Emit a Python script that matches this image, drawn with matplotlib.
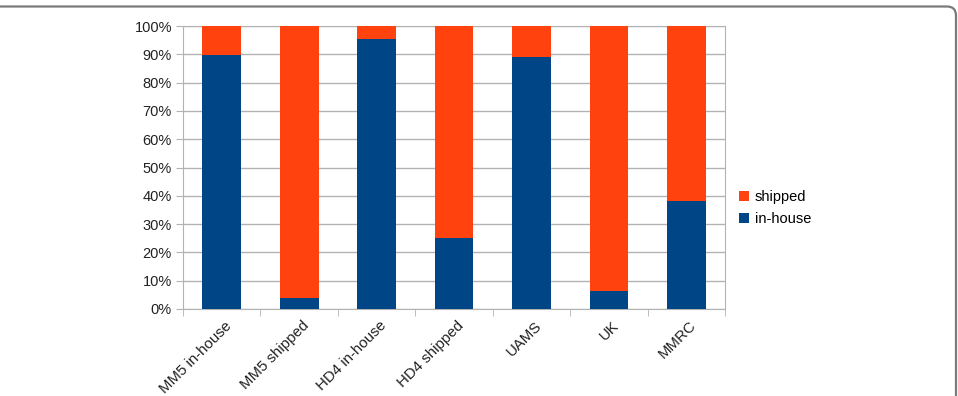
import matplotlib
matplotlib.use('Agg')
import matplotlib.pyplot as plt
import matplotlib.transforms as mtransforms
from matplotlib.path import Path
from matplotlib.patches import PathPatch
from matplotlib.ticker import PercentFormatter

plt.rcParams['font.family'] = ['Liberation Sans', 'DejaVu Sans']

# data (percent of samples)
categories = ['MM5 in-house', 'MM5 shipped', 'HD4 in-house', 'HD4 shipped', 'UAMS', 'UK', 'MMRC']
in_house = [89.7, 3.8, 95.4, 25.0, 89.0, 6.3, 38.0]
shipped = [100 - v for v in in_house]

blue = '#004586'
orange = '#ff420e'
grid_col = '#b3b3b3'

fig = plt.figure(figsize=(9.58, 3.96), dpi=100)
ax = fig.add_axes([183/958, 87/396, 542/958, 283/396])

x = list(range(len(categories)))
b1 = ax.bar(x, in_house, width=0.5, color=blue, label='in-house', zorder=3)
b2 = ax.bar(x, shipped, width=0.5, bottom=in_house, color=orange, label='shipped', zorder=3)

ax.set_xlim(-0.5, len(categories) - 0.5)
ax.set_ylim(0, 100)
ax.set_yticks(range(0, 101, 10))
ax.yaxis.set_major_formatter(PercentFormatter(decimals=0))
ax.grid(axis='y', color=grid_col, lw=1, zorder=0)

ax.set_xticks(x)
ax.set_xticklabels(categories, rotation=45, ha='right', rotation_mode='anchor')
ax.set_xticks([i - 0.5 for i in range(len(categories) + 1)], minor=True)
ax.tick_params(axis='x', which='major', length=0, pad=7, labelsize=10.8)
ax.tick_params(axis='x', which='minor', length=5, color=grid_col)
ax.tick_params(axis='y', length=5, color=grid_col, pad=3, labelsize=10.5)
ax.tick_params(labelcolor='#222222')

# nudge x labels a little to the right
shift = mtransforms.ScaledTranslation(3/100, 0, fig.dpi_scale_trans)
for lab in ax.get_xticklabels():
    lab.set_transform(lab.get_transform() + shift)

for s in ax.spines.values():
    s.set_color(grid_col)

fig.legend([b2, b1], ['shipped', 'in-house'], loc='center left',
           bbox_to_anchor=(739/958, 188/396), frameon=False, fontsize=10.5,
           handlelength=0.7, handleheight=0.7, handletextpad=0.4,
           labelspacing=0.55, borderpad=0, borderaxespad=0)

# outer frame (top edge with rounded corner, right edge)
W, H = 958, 396
r = 9
verts = [(0, H - 6.5), (W - 2 - r, H - 6.5), (W - 2, H - 6.5), (W - 2, H - 6.5 - r), (W - 2, 0)]
codes = [Path.MOVETO, Path.LINETO, Path.CURVE3, Path.CURVE3, Path.LINETO]
verts = [(vx / W, vy / H) for vx, vy in verts]
frame = PathPatch(Path(verts, codes), transform=fig.transFigure, fill=False,
                  edgecolor='#7a7a7a', lw=1.6)
fig.add_artist(frame)

fig.savefig('out.png', dpi=100)
